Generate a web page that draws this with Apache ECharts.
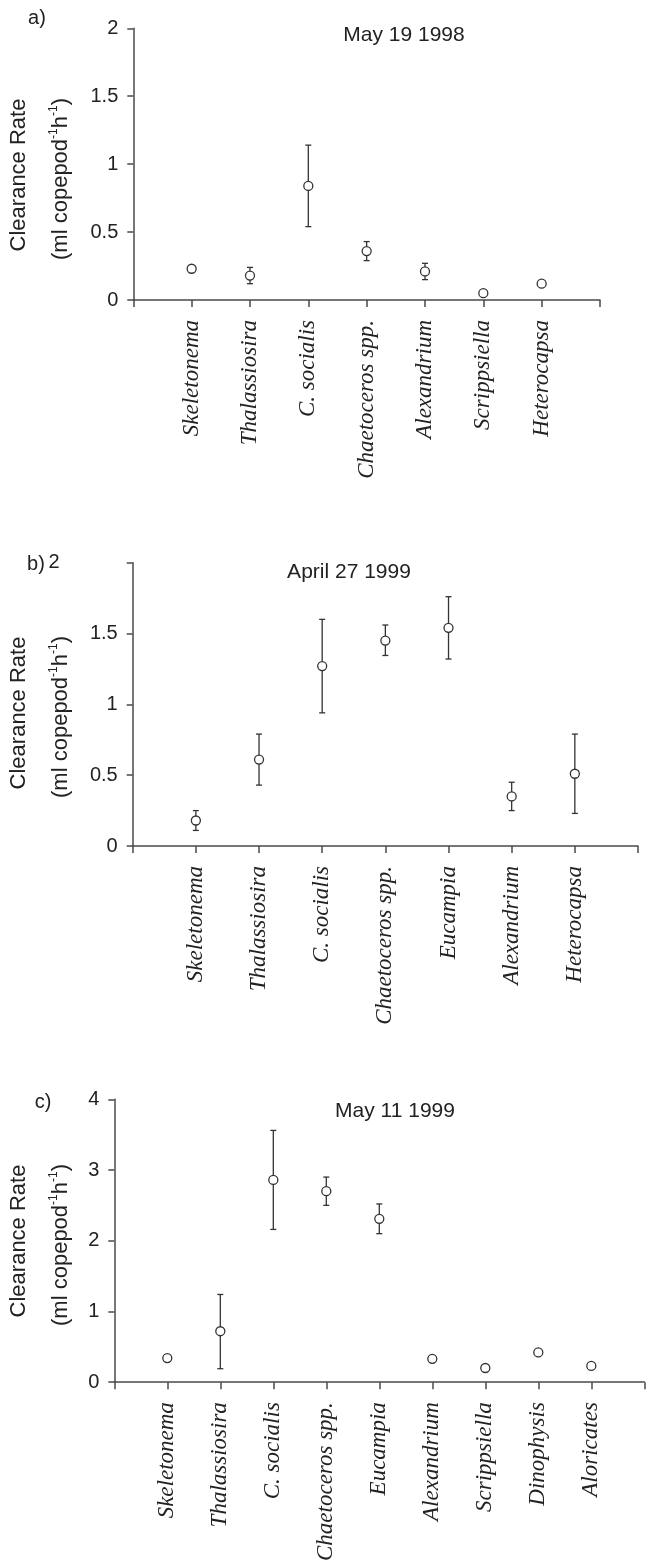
<!DOCTYPE html>
<html>
<head>
<meta charset="utf-8">
<script src="https://cdn.jsdelivr.net/npm/echarts@6/dist/echarts.min.js"></script>
<style>
html,body{margin:0;padding:0;background:#fff;}
#chart{width:646px;height:1564px;}
</style>
</head>
<body>
<div id="chart"></div>
<script>
// Panel a) May 19 1998
const catsA = ['Skeletonema','Thalassiosira','C. socialis','Chaetoceros spp.','Alexandrium','Scrippsiella','Heterocapsa'];
const meanA = [0.23, 0.18, 0.84, 0.36, 0.21, 0.05, 0.12];
const lowA  = [null, 0.12, 0.54, 0.29, 0.15, null, null];
const highA = [null, 0.24, 1.14, 0.43, 0.27, null, null];
const yTicksA = [0, 0.5, 1, 1.5, 2];

// Panel b) April 27 1999
const catsB = ['Skeletonema','Thalassiosira','C. socialis','Chaetoceros spp.','Eucampia','Alexandrium','Heterocapsa'];
const meanB = [0.18, 0.61, 1.27, 1.45, 1.54, 0.35, 0.51];
const lowB  = [0.11, 0.43, 0.94, 1.345, 1.32, 0.25, 0.23];
const highB = [0.25, 0.79, 1.60, 1.56, 1.76, 0.45, 0.79];
const yTicksB = [0, 0.5, 1, 1.5, 2];

// Panel c) May 11 1999
const catsC = ['Skeletonema','Thalassiosira','C. socialis','Chaetoceros spp.','Eucampia','Alexandrium','Scrippsiella','Dinophysis','Aloricates'];
const meanC = [0.34, 0.72, 2.86, 2.70, 2.31, 0.33, 0.20, 0.42, 0.23];
const lowC  = [null, 0.19, 2.16, 2.50, 2.10, null, null, null, null];
const highC = [null, 1.24, 3.56, 2.90, 2.52, null, null, null, null];
const yTicksC = [0, 1, 2, 3, 4];

const titles = ['May 19 1998', 'April 27 1999', 'May 11 1999'];
const panelLabels = ['a)', 'b)', 'c)'];

const SANS = "'Liberation Sans', Arial, sans-serif";
const SERIF = "'Liberation Serif', 'Times New Roman', serif";
const AXIS_COLOR = '#4a4a4a';
const TEXT_COLOR = '#222';

const panels = [
  {cats: catsA, mean: meanA, low: lowA, high: highA, yt: yTicksA,
   grid: {left: 133.3, top: 28.3, width: 466.7, height: 271.7}, xmax: 8},
  {cats: catsB, mean: meanB, low: lowB, high: highB, yt: yTicksB,
   grid: {left: 132.7, top: 562.7, width: 505.3, height: 283.3}, xmax: 8},
  {cats: catsC, mean: meanC, low: lowC, high: highC, yt: yTicksC,
   grid: {left: 114.3, top: 1099.3, width: 530, height: 285}, xmax: 10}
];

const grids = [], xAxes = [], yAxes = [], series = [];
panels.forEach((p, k) => {
  grids.push(Object.assign({containLabel: false}, p.grid));
  xAxes.push({
    type: 'value', gridIndex: k, min: 0, max: p.xmax, interval: 1,
    axisLine: {show: true, lineStyle: {color: AXIS_COLOR, width: 1.5}},
    axisTick: {show: true, length: 7, lineStyle: {color: AXIS_COLOR, width: 1.5}},
    splitLine: {show: false},
    axisLabel: {
      rotate: 90, margin: 20, showMinLabel: true, showMaxLabel: true, hideOverlap: false,
      fontFamily: SERIF, fontStyle: 'italic', fontSize: 23, color: TEXT_COLOR,
      formatter: v => p.cats[v - 1] || ''
    }
  });
  const ymin = p.yt[0], ymax = p.yt[p.yt.length - 1];
  yAxes.push({
    type: 'value', gridIndex: k, min: ymin, max: ymax, interval: p.yt[1] - p.yt[0],
    axisLine: {show: true, lineStyle: {color: AXIS_COLOR, width: 1.5}},
    axisTick: {show: true, length: 6, lineStyle: {color: AXIS_COLOR, width: 1.5}},
    splitLine: {show: false},
    axisLabel: {
      margin: 15, fontFamily: SANS, fontSize: 20, color: TEXT_COLOR,
      formatter: v => (k === 1 && v === ymax) ? '{far|' + v + '}' : String(v),
      rich: {far: {fontFamily: SANS, fontSize: 20, color: TEXT_COLOR, padding: [0, 58, 0, 0]}}
    }
  });
  const errData = p.mean.map((m, i) => [i + 1, p.low[i], p.high[i]]).filter(d => d[1] != null);
  series.push({
    type: 'custom', xAxisIndex: k, yAxisIndex: k, z: 2,
    data: errData,
    renderItem: (params, api) => {
      const x = api.value(0);
      const lo = api.coord([x, api.value(1)]);
      const hi = api.coord([x, api.value(2)]);
      const cw = 3;
      const st = {stroke: '#333', lineWidth: 1.3, fill: null};
      return {type: 'group', children: [
        {type: 'line', shape: {x1: lo[0], y1: lo[1], x2: hi[0], y2: hi[1]}, style: st},
        {type: 'line', shape: {x1: lo[0] - cw, y1: lo[1], x2: lo[0] + cw, y2: lo[1]}, style: st},
        {type: 'line', shape: {x1: hi[0] - cw, y1: hi[1], x2: hi[0] + cw, y2: hi[1]}, style: st}
      ]};
    }
  });
  series.push({
    type: 'scatter', xAxisIndex: k, yAxisIndex: k, z: 5,
    symbol: 'circle', symbolSize: 9,
    itemStyle: {color: '#fff', borderColor: '#333', borderWidth: 1.3, opacity: 1},
    data: p.mean.map((m, i) => [i + 1, m])
  });
});

const titlePos = [[404, 35], [349, 572], [395, 1111]];
const labelPos = [[37, 18], [36, 564], [43, 1102]];
const yNamePos = [[18.5, 175, 60, 179], [18.5, 713, 60, 717], [18.5, 1241, 60, 1245]];

const graphics = [];
panels.forEach((p, k) => {
  graphics.push({type: 'text', x: titlePos[k][0], y: titlePos[k][1],
    style: {text: titles[k], align: 'center', verticalAlign: 'middle', font: '21px ' + SANS, fill: TEXT_COLOR}});
  graphics.push({type: 'text', x: labelPos[k][0], y: labelPos[k][1],
    style: {text: panelLabels[k], align: 'center', verticalAlign: 'middle', font: '20px ' + SANS, fill: TEXT_COLOR}});
  graphics.push({type: 'text', x: yNamePos[k][0], y: yNamePos[k][1], rotation: Math.PI / 2,
    style: {text: 'Clearance Rate', x: 0, y: 0, align: 'center', verticalAlign: 'middle', font: '22px ' + SANS, fill: TEXT_COLOR}});
  graphics.push({type: 'text', x: yNamePos[k][2], y: yNamePos[k][3], rotation: Math.PI / 2,
    style: {
      text: '{n|(ml copepod}{s|-1}{n|h}{s|-1}{n|)}', x: 0, y: 0, align: 'center', verticalAlign: 'middle',
      rich: {
        n: {fontFamily: SANS, fontSize: 22, fill: TEXT_COLOR, lineHeight: 24, verticalAlign: 'bottom'},
        s: {fontFamily: SANS, fontSize: 12, fill: TEXT_COLOR, lineHeight: 24, verticalAlign: 'top'}
      }
    }});
});

const chart = echarts.init(document.getElementById('chart'), null, {renderer: 'canvas'});
chart.setOption({
  animation: false,
  backgroundColor: '#fff',
  grid: grids,
  xAxis: xAxes,
  yAxis: yAxes,
  series: series,
  graphic: graphics
});
</script>
</body>
</html>
